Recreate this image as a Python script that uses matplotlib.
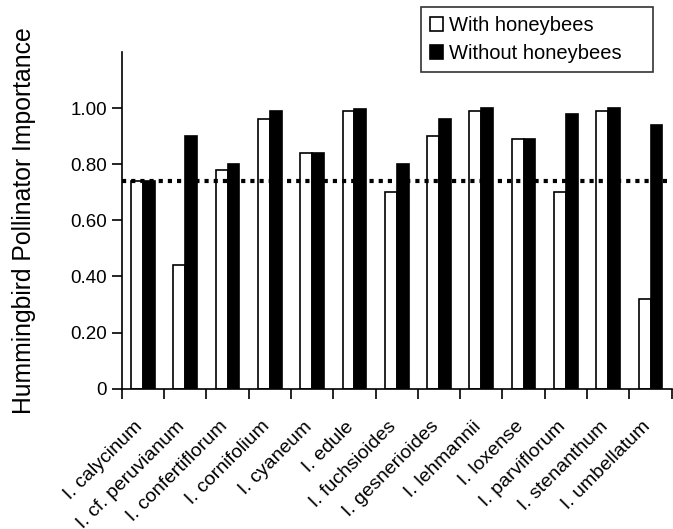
import matplotlib.pyplot as plt
import matplotlib.transforms as mtransforms
import numpy as np

plt.rcParams["font.family"] = ["Liberation Sans", "DejaVu Sans"]

species = [
    "I. calycinum", "I. cf. peruvianum", "I. confertiflorum", "I. cornifolium",
    "I. cyaneum", "I. edule", "I. fuchsioides", "I. gesnerioides",
    "I. lehmannii", "I. loxense", "I. parviflorum", "I. stenanthum",
    "I. umbellatum",
]
with_bees = [0.74, 0.44, 0.78, 0.96, 0.84, 0.99, 0.70, 0.90, 0.99, 0.89, 0.70, 0.99, 0.32]
without_bees = [0.74, 0.90, 0.80, 0.99, 0.84, 0.995, 0.80, 0.96, 1.00, 0.89, 0.98, 1.00, 0.94]
reference_level = 0.74
y_ticks = [0, 0.2, 0.4, 0.6, 0.8, 1.0]

fig = plt.figure(figsize=(6.73, 5.29), dpi=100)
ax = fig.add_axes([0.181, 0.265, 0.817, 0.637])

x = np.arange(len(species))
width = 0.28
ax.bar(x - width / 2, with_bees, width, color="white", edgecolor="black",
       linewidth=1.2, label="With honeybees", zorder=2)
ax.bar(x + width / 2, without_bees, width, color="black", edgecolor="black",
       linewidth=1.2, label="Without honeybees", zorder=2)
ax.axhline(reference_level, color="black", linestyle=(0, (1, 1.2)),
           linewidth=3, zorder=3)

ax.set_xlim(-0.5, len(species) - 0.5)
ax.set_ylim(0, 1.2)
ax.set_yticks(y_ticks)
ax.set_yticklabels(["0" if v == 0 else f"{v:.2f}" for v in y_ticks], fontsize=13.5)
ax.set_xticks(x)
ax.set_xticklabels(species, rotation=45, ha="right", rotation_mode="anchor", fontsize=14)
ax.tick_params(axis="x", length=0, pad=21)
shift = mtransforms.ScaledTranslation(-9 / 100, 0, fig.dpi_scale_trans)
for lbl in ax.get_xticklabels():
    lbl.set_transform(lbl.get_transform() + shift)
ax.set_xticks(np.arange(len(species) + 1) - 0.5, minor=True)
ax.tick_params(axis="x", which="minor", length=7, width=1.2, direction="out")
ax.tick_params(axis="y", length=7, width=1.2, direction="out")
ax.set_ylabel("Hummingbird Pollinator Importance", fontsize=17.8, labelpad=25)

for side in ("top", "right"):
    ax.spines[side].set_visible(False)
for side in ("left", "bottom"):
    ax.spines[side].set_linewidth(1.2)

# legend box stretched to the reference width (421..653 px)
leg = fig.legend(loc="upper left",
                 bbox_to_anchor=(421 / 673, 1 - 7 / 529, 232 / 673, 0.0),
                 mode="expand", fontsize=14.5,
                 frameon=True, fancybox=False, shadow=False, edgecolor="black",
                 handlelength=0.65, handleheight=0.65, handletextpad=0.3,
                 borderpad=0.45, borderaxespad=0, labelspacing=0.45)
leg.get_frame().set_linewidth(1.2)

fig.savefig("out.png", dpi=100)
